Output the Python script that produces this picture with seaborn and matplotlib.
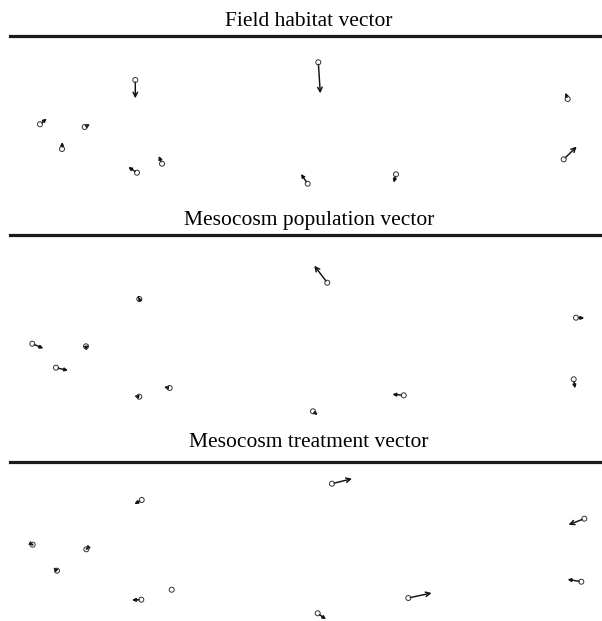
import numpy as np
import pandas as pd
import matplotlib
matplotlib.use("Agg")
import matplotlib.pyplot as plt
import seaborn as sns

# ---------------- data (site position, response vector) ----------------
titles = ["Field habitat vector", "Mesocosm population vector", "Mesocosm treatment vector"]

# Field habitat vector panel
field_x  = [135.3, 40.0, 84.7, 62.0, 162.0, 137.0, 318.3, 567.7, 563.7, 307.7, 396.0]
field_y  = [44.0, 88.3, 91.0, 113.0, 127.7, 136.7, 26.3, 63.0, 123.3, 147.7, 138.3]
field_dx = [0.0, 6.7, 5.3, 0.3, -3.3, -8.7, 2.0, -2.3, 13.0, -6.7, -2.3]
field_dy = [18.3, -5.7, -2.7, -7.0, -7.7, -5.7, 31.0, -6.3, -12.7, -9.7, 8.3]

# Mesocosm population vector panel
pop_x  = [139.3, 32.3, 86.0, 56.0, 169.7, 139.3, 327.3, 576.0, 573.7, 403.7, 313.0]
pop_y  = [64.0, 108.7, 111.3, 132.7, 153.0, 161.7, 47.7, 82.7, 144.3, 160.3, 176.3]
pop_dx = [-1.0, 11.0, 0.7, 12.0, -5.7, -5.0, -13.0, 8.3, 1.3, -11.3, 4.7]
pop_dy = [-2.0, 4.7, 4.3, 2.7, -1.0, -0.7, -17.0, 0.3, 9.0, -1.0, 3.7]

# Mesocosm treatment vector panel
trt_x  = [141.7, 32.7, 86.3, 57.0, 171.7, 141.3, 332.0, 584.3, 581.3, 408.3, 317.7]
trt_y  = [38.0, 82.7, 87.3, 108.7, 127.7, 137.7, 21.7, 56.7, 119.7, 136.0, 151.3]
trt_dx = [-7.3, 1.0, -0.5, -3.7, 0.0, -9.3, 20.0, -15.7, -13.7, 23.3, 8.3]
trt_dy = [4.0, 0.5, 0.5, -3.3, 0.0, 0.3, -5.0, 6.0, -2.3, -5.0, 6.0]

panels = [
    (field_x, field_y, field_dx, field_dy),
    (pop_x, pop_y, pop_dx, pop_dy),
    (trt_x, trt_y, trt_dx, trt_dy),
]

# ---------------- layout ----------------
W, H = 602, 621
fig = plt.figure(figsize=(W / 100, H / 100), dpi=100)
sns.set_style("white")
plt.rcParams["font.family"] = ["Liberation Serif", "DejaVu Serif"]

# (top pixel, bottom pixel) of each panel
extents = [(36, 205), (235, 425), (462, 621)]
pads = [7, 7, 11]
left_px, right_px = 10, 608

for (top, bot), pad, title, (xs, ys, dxs, dys) in zip(extents, pads, titles, panels):
    ax = fig.add_axes([left_px / W, 1 - bot / H, (right_px - left_px) / W, (bot - top) / H])
    df = pd.DataFrame({"x": xs, "y": ys, "dx": dxs, "dy": dys})
    ax.set_xlim(left_px, right_px)
    ax.set_ylim(bot - top, 0)
    for _, r in df.iterrows():
        length = np.hypot(r.dx, r.dy)
        if length < 0.5:
            continue
        big = length > 15
        ax.annotate("", xy=(r.x + r.dx, r.y + r.dy), xytext=(r.x, r.y),
                    arrowprops=dict(arrowstyle="->" if big else "-|>", lw=1.05,
                                    color="#111111",
                                    mutation_scale=8 if big else 4.8,
                                    shrinkA=1.5, shrinkB=0))
    sns.scatterplot(data=df, x="x", y="y", ax=ax, s=13, marker="o",
                    facecolors="none", edgecolor="#333333", linewidth=0.7, zorder=3)
    ax.set_xlabel("")
    ax.set_ylabel("")
    ax.set_xticks([])
    ax.set_yticks([])
    for side in ["left", "right", "bottom"]:
        ax.spines[side].set_visible(False)
    ax.spines["top"].set_linewidth(2.3)
    ax.spines["top"].set_color("#1a1a1a")
    ax.set_title(title, fontsize=15.5, pad=pad, color="black",
                 family=["Liberation Serif", "DejaVu Serif"])

fig.savefig("out.png", dpi=100)
